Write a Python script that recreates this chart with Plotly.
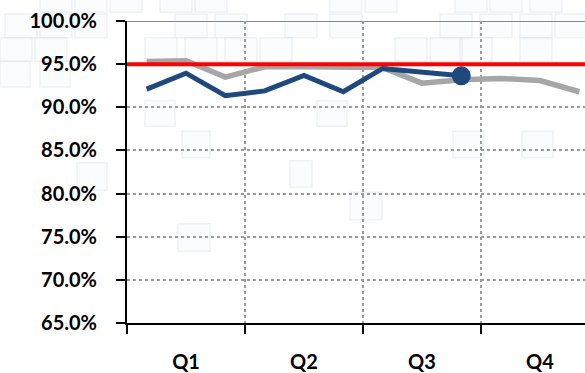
import plotly.graph_objects as go

# Monthly positions: month i sits at the centre of its slot (i - 0.5)
months = [m - 0.5 for m in range(1, 13)]
quarters = ["Q1", "Q2", "Q3", "Q4"]
quarter_centres = [1.5, 4.5, 7.5, 10.5]

prior_year = [95.3, 95.4, 93.5, 94.7, 94.7, 94.7, 94.6, 92.8, 93.2, 93.35, 93.1, 91.8]
current_year = [92.1, 93.95, 91.35, 91.9, 93.7, 91.8, 94.5, 94.1, 93.65]
target = 95.0

GRAY = "#A6A6A6"
BLUE = "#1F497D"
RED = "#FF0000"
FONT = "Lato"

W, H = 585, 373
ML, MR, MT, MB = 127, 0, 21, 45
PW, PH = W - ML - MR, H - MT - MB

fig = go.Figure()

fig.add_trace(go.Scatter(
    x=months, y=prior_year, mode="lines",
    line=dict(color=GRAY, width=5.5), hoverinfo="skip", showlegend=False,
))

fig.add_trace(go.Scatter(
    x=months[:len(current_year)], y=current_year, mode="lines",
    line=dict(color=BLUE, width=5), hoverinfo="skip", showlegend=False,
))

# Marker on the latest month
fig.add_trace(go.Scatter(
    x=[months[len(current_year) - 1]], y=[current_year[-1]], mode="markers",
    marker=dict(color=BLUE, size=19), hoverinfo="skip", showlegend=False,
))

# Faint tiled background decoration (pixel boxes converted to paper units)
tiles = [
    # top rows
    (40, -6, 32, 18), (75, -6, 32, 18), (110, -6, 32, 18), (160, -6, 32, 18),
    (195, -6, 32, 18), (330, -6, 32, 18), (365, -6, 32, 18), (455, -6, 32, 18),
    (490, -6, 32, 18), (530, -6, 32, 18),
    (5, 14, 32, 24), (40, 14, 32, 24), (75, 14, 32, 24), (175, 14, 32, 24),
    (215, 14, 32, 24), (285, 14, 32, 24), (330, 14, 32, 24), (440, 14, 32, 24),
    (480, 14, 32, 24), (520, 14, 32, 24), (555, 14, 32, 24),
    (0, 38, 32, 24), (35, 38, 32, 24), (145, 38, 32, 24), (185, 38, 32, 24),
    (225, 38, 32, 24), (260, 38, 32, 24), (395, 38, 32, 24), (430, 38, 32, 24),
    (460, 38, 32, 24), (520, 38, 32, 24),
    (0, 62, 30, 26), (40, 62, 30, 26),
    # scattered tiles lower down
    (145, 102, 30, 26), (182, 133, 28, 27), (317, 102, 30, 26),
    (453, 133, 31, 27), (522, 133, 31, 27), (290, 163, 22, 27),
    (178, 227, 32, 28), (350, 195, 32, 28), (77, 165, 30, 28),
]
for (px, py, pw, ph) in tiles:
    fig.add_shape(
        type="rect", xref="paper", yref="paper", layer="below",
        x0=(px - ML) / PW, x1=(px + pw - ML) / PW,
        y0=1 - (py + ph - MT) / PH, y1=1 - (py - MT) / PH,
        line=dict(color="rgba(210,220,234,0.35)", width=1.5),
        fillcolor="rgba(238,242,247,0.25)",
    )

# Solid top border line and target line
fig.add_shape(type="line", xref="paper", x0=0, x1=1, y0=100, y1=100,
              line=dict(color="#888888", width=2), layer="below")
fig.add_shape(type="line", xref="paper", x0=0, x1=1, y0=target, y1=target,
              line=dict(color=RED, width=4), layer="above")

fig.update_layout(
    width=W, height=H,
    margin=dict(l=ML, r=MR, t=MT, b=MB),
    paper_bgcolor="white", plot_bgcolor="rgba(0,0,0,0)",
    font=dict(family=FONT, color="black"),
    xaxis=dict(
        range=[0, 11.645],
        tickvals=quarter_centres, ticktext=quarters,
        ticks="", showgrid=False,
        tickfont=dict(size=20, family=FONT, weight="bold"),
        ticklabelstandoff=20,
        showline=True, linecolor="black", linewidth=2,
        minor=dict(tick0=0, dtick=3, ticks="outside", ticklen=9,
                   tickwidth=2, tickcolor="black",
                   showgrid=True, gridcolor="#9A9A9A", griddash="dot", gridwidth=1.5),
        zeroline=False, fixedrange=True,
    ),
    yaxis=dict(
        range=[65, 100], dtick=5, tick0=65,
        tickformat=".1f", ticksuffix="%",
        ticks="outside", ticklen=9, tickwidth=2, tickcolor="black",
        tickfont=dict(size=20, family=FONT, weight="bold"),
        ticklabelstandoff=15,
        showline=True, linecolor="black", linewidth=2,
        showgrid=True, gridcolor="#9A9A9A", griddash="dot", gridwidth=1.5,
        zeroline=False, fixedrange=True,
    ),
)

fig.write_html("out.html")
